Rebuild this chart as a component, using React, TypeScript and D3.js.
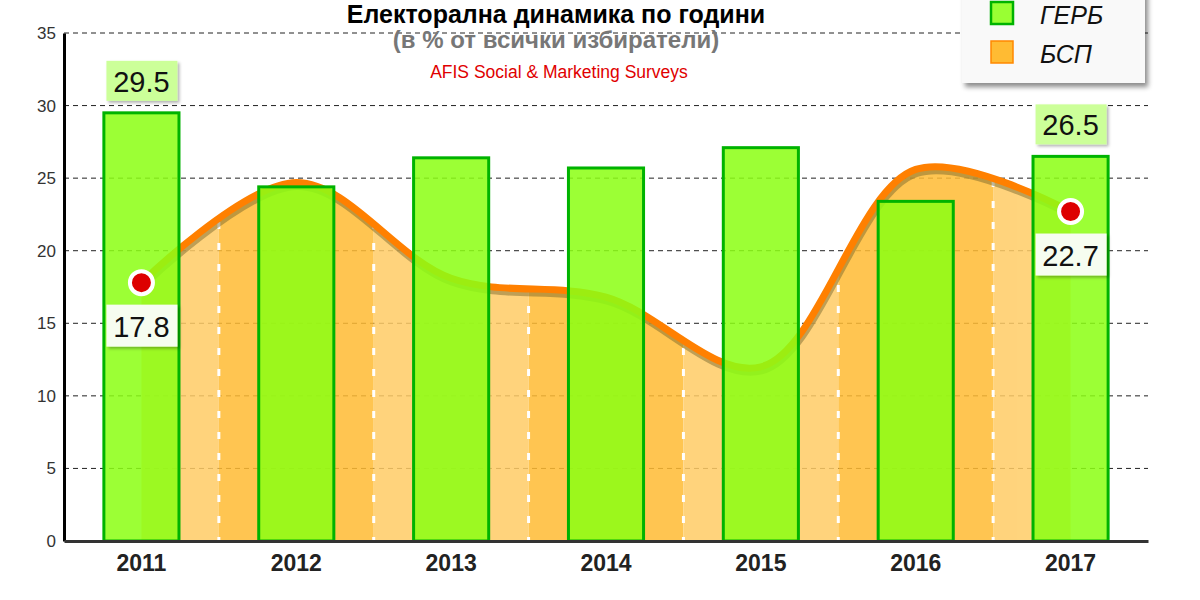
import React, { useEffect, useRef } from 'react';
import * as d3 from 'd3';

// categories and series
const years = ['2011', '2012', '2013', '2014', '2015', '2016', '2017'];
const gerb = [29.5, 24.4, 26.4, 25.7, 27.1, 23.4, 26.5];
const bsp = [17.8, 24.7, 18.1, 16.8, 12.0, 25.6, 22.7];
const yTicks = [0, 5, 10, 15, 20, 25, 30, 35];

const title = 'Електорална динамика по години';
const subtitle = '(в % от всички избиратели)';
const source = 'AFIS Social & Marketing Surveys';
const legendNames = ['ГЕРБ', 'БСП'];

const FONT = 'Arial, "Liberation Sans", sans-serif';

const App = () => {
    const svgRef = useRef(null);

    useEffect(() => {
        document.body.style.margin = '0';
        const svg = d3.select(svgRef.current);
        svg.selectAll('*').remove();

        const width = 1200;
        const height = 600;
        const margin = { top: 33, right: 52, bottom: 59, left: 64 };

        const x = d3.scaleBand().domain(years).range([margin.left, width - margin.right]).padding(0);
        const y = d3.scaleLinear().domain([0, 35]).range([height - margin.bottom, margin.top]);
        const cx = (d: string) => (x(d) as number) + x.bandwidth() / 2;
        const barW = x.bandwidth() * 0.485;

        const defs = svg.append('defs');
        const shadow = defs.append('filter').attr('id', 'shadow').attr('x', '-20%').attr('y', '-20%').attr('width', '150%').attr('height', '160%');
        shadow.append('feDropShadow').attr('dx', 2).attr('dy', 2).attr('stdDeviation', 1.5).attr('flood-color', '#000').attr('flood-opacity', 0.3);
        const lshadow = defs.append('filter').attr('id', 'lshadow').attr('x', '-20%').attr('y', '-20%').attr('width', '150%').attr('height', '160%');
        lshadow.append('feDropShadow').attr('dx', 3).attr('dy', 4).attr('stdDeviation', 2.5).attr('flood-color', '#000').attr('flood-opacity', 0.45);

        const pts: [number, number][] = years.map((d, i) => [cx(d), y(bsp[i])]);

        const area = d3.area<[number, number]>()
            .x(d => d[0])
            .y0(y(0))
            .y1(d => d[1])
            .curve(d3.curveCatmullRom);
        const line = d3.line<[number, number]>()
            .x(d => d[0])
            .y(d => d[1])
            .curve(d3.curveCatmullRom);

        defs.append('clipPath').attr('id', 'areaClip')
            .append('path').attr('d', area(pts));

        // horizontal grid
        svg.append('g')
            .selectAll('line')
            .data(yTicks.slice(1))
            .join('line')
            .attr('x1', margin.left)
            .attr('x2', width - margin.right)
            .attr('y1', d => y(d))
            .attr('y2', d => y(d))
            .attr('stroke', '#222')
            .attr('stroke-width', 1)
            .attr('stroke-dasharray', '5,4');

        // area with alternating bands
        const bands = svg.append('g').attr('clip-path', 'url(#areaClip)').attr('opacity', 0.85);
        bands.selectAll('rect')
            .data(years)
            .join('rect')
            .attr('x', d => x(d) as number)
            .attr('width', x.bandwidth())
            .attr('y', margin.top)
            .attr('height', y(0) - margin.top)
            .attr('fill', (_, i) => (i % 2 === 0 ? '#ffcc66' : '#ffbb33'));

        svg.append('g').attr('clip-path', 'url(#areaClip)')
            .selectAll('line')
            .data(years.slice(1))
            .join('line')
            .attr('x1', d => x(d) as number)
            .attr('x2', d => x(d) as number)
            .attr('y1', margin.top)
            .attr('y2', y(0))
            .attr('stroke', '#fff')
            .attr('stroke-width', 3)
            .attr('stroke-dasharray', '7,14');

        // line with shadow
        svg.append('path')
            .attr('d', line(pts))
            .attr('fill', 'none')
            .attr('stroke', 'rgba(110,95,40,0.45)')
            .attr('stroke-width', 7)
            .attr('transform', 'translate(1,4)');
        svg.append('path')
            .attr('d', line(pts))
            .attr('fill', 'none')
            .attr('stroke', '#ff8000')
            .attr('stroke-width', 7);

        // bars
        svg.append('g')
            .selectAll('rect')
            .data(years)
            .join('rect')
            .attr('x', d => cx(d) - barW / 2)
            .attr('width', barW)
            .attr('y', (_, i) => y(gerb[i]))
            .attr('height', (_, i) => y(0) - y(gerb[i]))
            .attr('fill', '#8cff14')
            .attr('fill-opacity', 0.86)
            .attr('stroke', '#00b300')
            .attr('stroke-width', 3);

        // axes
        const yAxis = svg.append('g')
            .attr('transform', `translate(${margin.left},0)`)
            .call(d3.axisLeft(y).tickValues(yTicks).tickSize(0).tickPadding(8));
        yAxis.select('.domain').attr('stroke', '#000').attr('stroke-width', 3);
        yAxis.selectAll('text').attr('font-family', FONT).attr('font-size', 17).attr('fill', '#333');

        const xAxis = svg.append('g')
            .attr('transform', `translate(0,${y(0)})`)
            .call(d3.axisBottom(x).tickSize(0).tickPadding(14));
        xAxis.select('.domain').attr('stroke', '#333').attr('stroke-width', 3);
        xAxis.selectAll('text').attr('font-family', FONT).attr('font-size', 23).attr('font-weight', 'bold').attr('fill', '#222');

        // labels for first and last bars
        const ends = [0, years.length - 1];
        ends.forEach(i => {
            const bx = cx(years[i]);
            const by = y(gerb[i]);
            svg.append('rect')
                .attr('x', bx - 35).attr('y', by - 52).attr('width', 71).attr('height', 40)
                .attr('fill', '#ccff99').attr('filter', 'url(#shadow)');
            svg.append('text')
                .attr('x', bx).attr('y', by - 21)
                .attr('text-anchor', 'middle')
                .attr('font-family', FONT).attr('font-size', 29)
                .attr('fill', '#111')
                .text(gerb[i].toFixed(1));
        });

        // markers + labels for first and last area points
        ends.forEach(i => {
            const [px, py] = pts[i];
            svg.append('circle')
                .attr('cx', px).attr('cy', py).attr('r', 11.5)
                .attr('fill', '#dd0000').attr('stroke', '#fff').attr('stroke-width', 4);
            svg.append('rect')
                .attr('x', px - 35).attr('y', py + 22).attr('width', 71).attr('height', 42)
                .attr('fill', '#f6fdf0').attr('filter', 'url(#shadow)');
            svg.append('text')
                .attr('x', px).attr('y', py + 54)
                .attr('text-anchor', 'middle')
                .attr('font-family', FONT).attr('font-size', 29)
                .attr('fill', '#111')
                .text(bsp[i].toFixed(1));
        });

        // titles
        svg.append('text')
            .attr('x', 556).attr('y', 23)
            .attr('text-anchor', 'middle')
            .attr('font-family', FONT).attr('font-size', 25).attr('font-weight', 'bold')
            .attr('fill', '#000')
            .text(title);
        svg.append('text')
            .attr('x', 556).attr('y', 48)
            .attr('text-anchor', 'middle')
            .attr('font-family', FONT).attr('font-size', 24).attr('font-weight', 'bold')
            .attr('fill', '#777')
            .text(subtitle);
        svg.append('text')
            .attr('x', 559).attr('y', 78)
            .attr('text-anchor', 'middle')
            .attr('font-family', FONT).attr('font-size', 17.5)
            .attr('fill', '#e00000')
            .text(source);

        // legend
        const lg = svg.append('g');
        lg.append('rect')
            .attr('x', 962).attr('y', -10).attr('width', 183).attr('height', 93)
            .attr('fill', '#f9f9f9').attr('filter', 'url(#lshadow)');
        const swatch = [
            { fill: '#99ff33', stroke: '#00b300', sw: 2.5 },
            { fill: '#ffbb33', stroke: '#ff8800', sw: 1.5 },
        ];
        legendNames.forEach((name, i) => {
            const ly = 2 + i * 39;
            lg.append('rect')
                .attr('x', 991).attr('y', ly).attr('width', 22).attr('height', 22)
                .attr('fill', swatch[i].fill).attr('stroke', swatch[i].stroke).attr('stroke-width', swatch[i].sw);
            lg.append('text')
                .attr('x', 1040).attr('y', ly + 22)
                .attr('font-family', FONT).attr('font-size', 25).attr('font-style', 'italic')
                .attr('fill', '#111')
                .text(name);
        });
    }, []);

    return <svg ref={svgRef} width={1200} height={600} style={{ display: 'block', background: '#fff' }} />;
};

export default App;
